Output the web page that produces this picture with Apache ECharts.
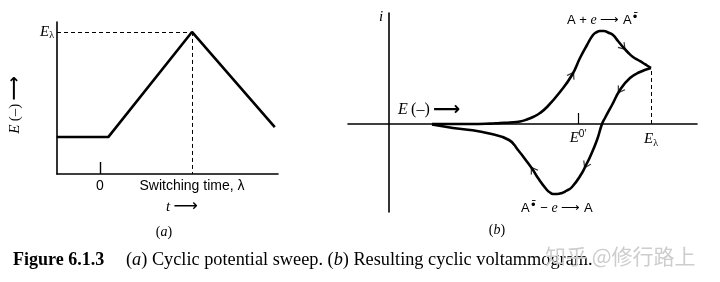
<!DOCTYPE html>
<html><head><meta charset="utf-8">
<script src="https://cdn.jsdelivr.net/npm/echarts@6/dist/echarts.min.js"></script>
<style>html,body{margin:0;padding:0;background:#fff}#c{width:720px;height:282px}</style>
</head><body><div id="c"></div>
<script>
// ---------- Panel (a): cyclic potential sweep ----------
const sweepTime      = [-0.47, 0.09, 1.0, 1.90];
const sweepPotential = [0.26, 0.26, 1.0, 0.33];
const switchTime = 1.0;        // lambda
const switchPotential = 1.0;   // E_lambda
const timeTickValues = [0];
const timeLabelValues = [0, 1];
const timeLabels = ['0', 'Switching time, λ'];

// ---------- Panel (b): cyclic voltammogram ----------
const fwdE = [0.43, 0.81, 1.01, 1.11, 1.21, 1.31, 1.38, 1.44, 1.51, 1.58, 1.71, 1.83, 1.91, 1.98, 2.04, 2.08, 2.11, 2.15, 2.19, 2.24, 2.29, 2.34, 2.39, 2.44, 2.49, 2.54, 2.58, 2.62];
const fwdI = [0.00, 0.00, 0.004, 0.01, 0.015, 0.025, 0.045, 0.07, 0.11, 0.17, 0.32, 0.49, 0.66, 0.79, 0.89, 0.92, 0.93, 0.93, 0.915, 0.89, 0.83, 0.77, 0.715, 0.67, 0.64, 0.61, 0.585, 0.56];
const revE = [2.62, 2.51, 2.41, 2.31, 2.23, 2.16, 2.13, 2.08, 2.01, 1.97, 1.93, 1.83, 1.77, 1.73, 1.68, 1.64, 1.61, 1.58, 1.49, 1.44, 1.39, 1.29, 1.20, 0.98, 0.81, 0.64, 0.43];
const revI = [0.56, 0.52, 0.46, 0.34, 0.19, 0.06, 0.00, -0.16, -0.33, -0.41, -0.49, -0.63, -0.67, -0.69, -0.70, -0.70, -0.685, -0.66, -0.54, -0.46, -0.39, -0.26, -0.16, -0.09, -0.06, -0.04, -0.005];
const formalPotential = 1.89;      // E0'
const switchingPotential = 2.62;   // E_lambda
const fwdArrowIdx = [11, 21];
const revArrowIdx = [3, 9, 19];

const serif = 'Liberation Serif';
const sans = 'Liberation Sans';
const zip = (a, b) => a.map((v, k) => [v, b[k]]);
const chevron = 'path://M0,10 L5,0 L10,10';

const chart = echarts.init(document.getElementById('c'), null, {renderer: 'canvas'});

function arrowData(E, I, idx, rot) {
  return idx.map((k, n) => ({value: [E[k], I[k]], symbolRotate: rot ? rot[n] : 0}));
}

const eRich = {
  e: {fontFamily: serif, fontStyle: 'italic', fontSize: 15, color: '#000'},
  s: {fontFamily: sans, fontSize: 10, color: '#000', padding: [0, 0, 9, 0]},
  b: {fontFamily: serif, fontSize: 10, color: '#000', padding: [7, 0, 0, 0]}
};

function buildOption(fRot, rRot) {
  return {
    animation: false,
    backgroundColor: '#fff',
    grid: [
      {left: 57, top: 22, width: 221, height: 152},
      {left: 348, top: 13, width: 349, height: 199}
    ],
    xAxis: [
      {
        gridIndex: 0, type: 'value', min: -0.467, max: 1.935,
        axisLine: {onZero: false, lineStyle: {color: '#000', width: 1.6}},
        axisTick: {show: true, inside: true, length: 12, customValues: timeTickValues, lineStyle: {color: '#000', width: 1.4}},
        axisLabel: {show: true, customValues: timeLabelValues, margin: 5, color: '#000', fontFamily: sans, fontSize: 14,
          formatter: v => timeLabels[timeLabelValues.indexOf(v)] || ''},
        splitLine: {show: false}
      },
      {
        gridIndex: 1, type: 'value', min: -0.41, max: 3.08,
        axisLine: {onZero: true, lineStyle: {color: '#000', width: 1.6}},
        axisTick: {show: true, inside: true, length: 11, customValues: [formalPotential], lineStyle: {color: '#000', width: 1.2}},
        axisLabel: {show: false},
        splitLine: {show: false}
      }
    ],
    yAxis: [
      {
        gridIndex: 0, type: 'value', min: 0, max: 1.07,
        axisLine: {show: true, onZero: false, lineStyle: {color: '#000', width: 1.6}},
        axisTick: {show: false},
        axisLabel: {show: true, customValues: [switchPotential], margin: 3, color: '#000',
          formatter: () => '{e|E}{b|λ}', rich: eRich},
        splitLine: {show: false}
      },
      {
        gridIndex: 1, type: 'value', min: -0.88, max: 1.11,
        axisLine: {show: true, onZero: true, lineStyle: {color: '#000', width: 1.6}},
        axisTick: {show: false}, axisLabel: {show: false}, splitLine: {show: false}
      }
    ],
    series: [
      {
        type: 'line', xAxisIndex: 0, yAxisIndex: 0, data: zip(sweepTime, sweepPotential),
        symbol: 'none', lineStyle: {color: '#000', width: 2.6}, z: 5,
        markLine: {
          silent: true, symbol: 'none', label: {show: false},
          lineStyle: {color: '#000', width: 1, type: [4, 3]},
          data: [
            [{coord: [-0.467, switchPotential]}, {coord: [switchTime, switchPotential]}],
            [{coord: [switchTime, switchPotential]}, {coord: [switchTime, 0]}]
          ]
        }
      },
      {
        type: 'line', xAxisIndex: 1, yAxisIndex: 1, data: zip(fwdE, fwdI), smooth: 0.5,
        symbol: 'none', lineStyle: {color: '#000', width: 2.6, join: 'round'}, z: 5,
        markLine: {
          silent: true, symbol: 'none', label: {show: false},
          lineStyle: {color: '#000', width: 1, type: [4, 3]},
          data: [[{coord: [switchingPotential, 0]}, {coord: [switchingPotential, revI[0]]}]]
        },
        markPoint: {
          silent: true, symbol: 'circle', symbolSize: 0,
          label: {show: true, position: 'bottom', distance: 5, color: '#000', rich: eRich},
          data: [
            {coord: [formalPotential, 0], label: {formatter: '{e|E}{s|0′}'}},
            {coord: [switchingPotential, 0], label: {formatter: '{e|E}{b|λ}', distance: 7}}
          ]
        }
      },
      {
        type: 'line', xAxisIndex: 1, yAxisIndex: 1, data: zip(revE, revI), smooth: 0.5,
        symbol: 'none', lineStyle: {color: '#000', width: 2.6, join: 'round'}, z: 5
      },
      {
        type: 'scatter', xAxisIndex: 1, yAxisIndex: 1, data: arrowData(fwdE, fwdI, fwdArrowIdx, fRot),
        symbol: chevron, symbolSize: [8, 6], itemStyle: {color: 'none', borderColor: '#000', borderWidth: 1.1}, z: 6, silent: true
      },
      {
        type: 'scatter', xAxisIndex: 1, yAxisIndex: 1, data: arrowData(revE, revI, revArrowIdx, rRot),
        symbol: chevron, symbolSize: [8, 6], itemStyle: {color: 'none', borderColor: '#000', borderWidth: 1.1}, z: 6, silent: true
      }
    ],
    graphic: [
      // panel (a) annotations
      {type: 'text', x: 15, y: 105, rotation: Math.PI / 2, style: {text: '{e|E} {n|(–)} {a|⟶}', align: 'center', verticalAlign: 'middle',
        rich: {e: {fontFamily: serif, fontStyle: 'italic', fontSize: 15}, n: {fontFamily: serif, fontSize: 15}, a: {fontFamily: 'DejaVu Sans', fontSize: 17, fontWeight: 'bold'}}}},
      {type: 'text', x: 182, y: 207, style: {text: '{e|t} {a|⟶}', align: 'center', verticalAlign: 'middle',
        rich: {e: {fontFamily: serif, fontStyle: 'italic', fontSize: 15}, a: {fontFamily: 'DejaVu Sans', fontSize: 17}}}},
      {type: 'text', x: 164, y: 232, style: {text: '({i|a})', align: 'center', verticalAlign: 'middle', font: '14px ' + serif,
        rich: {i: {fontFamily: serif, fontStyle: 'italic', fontSize: 14}}}},
      // panel (b) annotations
      {type: 'text', x: 381, y: 17, style: {text: 'i', align: 'center', verticalAlign: 'middle', font: 'italic 15px ' + serif}},
      {type: 'text', x: 398, y: 110, style: {text: '{e|E} {n|(–)} {a|⟶}', align: 'left', verticalAlign: 'middle',
        rich: {e: {fontFamily: serif, fontStyle: 'italic', fontSize: 16}, n: {fontFamily: serif, fontSize: 16}, a: {fontFamily: 'DejaVu Sans', fontSize: 19, fontWeight: 'bold'}}}},
      {type: 'text', x: 567, y: 20, style: {text: '{n|A + }{e|e}{n| ⟶ A}{s|•̄}', align: 'left', verticalAlign: 'middle',
        rich: {n: {fontFamily: sans, fontSize: 13}, e: {fontFamily: serif, fontStyle: 'italic', fontSize: 14}, s: {fontFamily: 'DejaVu Sans', fontSize: 12, padding: [0, 0, 5, 0]}}}},
      {type: 'text', x: 521, y: 208, style: {text: '{n|A}{s|•̄}{n| − }{e|e}{n| ⟶ A}', align: 'left', verticalAlign: 'middle',
        rich: {n: {fontFamily: sans, fontSize: 13}, e: {fontFamily: serif, fontStyle: 'italic', fontSize: 14}, s: {fontFamily: 'DejaVu Sans', fontSize: 12, padding: [0, 0, 5, 0]}}}},
      {type: 'text', x: 497, y: 230, style: {text: '({i|b})', align: 'center', verticalAlign: 'middle', font: '14px ' + serif,
        rich: {i: {fontFamily: serif, fontStyle: 'italic', fontSize: 14}}}},
      // caption
      {type: 'text', x: 13, y: 260, style: {text: 'Figure 6.1.3', verticalAlign: 'middle', font: 'bold 18px ' + serif, fill: '#000'}},
      {type: 'text', x: 126, y: 260, style: {text: '({i|a}) Cyclic potential sweep. ({i|b}) Resulting cyclic voltammogram.', verticalAlign: 'middle', font: '18.3px ' + serif, fill: '#000',
        rich: {i: {fontFamily: serif, fontStyle: 'italic', fontSize: 18.3}}}},
      {type: 'text', x: 545, y: 256, style: {text: '知乎 @修行路上', verticalAlign: 'middle', font: '21px "Noto Sans CJK SC"', fill: '#cdcdcd'}}
    ]
  };
}

chart.setOption(buildOption(null, null));

function rotations(E, I, idx) {
  return idx.map(k => {
    const p0 = chart.convertToPixel({gridIndex: 1}, [E[k - 1], I[k - 1]]);
    const p1 = chart.convertToPixel({gridIndex: 1}, [E[k + 1], I[k + 1]]);
    const dx = p1[0] - p0[0], dy = p1[1] - p0[1];
    return Math.atan2(-dx, -dy) * 180 / Math.PI;
  });
}
chart.setOption(buildOption(rotations(fwdE, fwdI, fwdArrowIdx), rotations(revE, revI, revArrowIdx)));
</script></body></html>
